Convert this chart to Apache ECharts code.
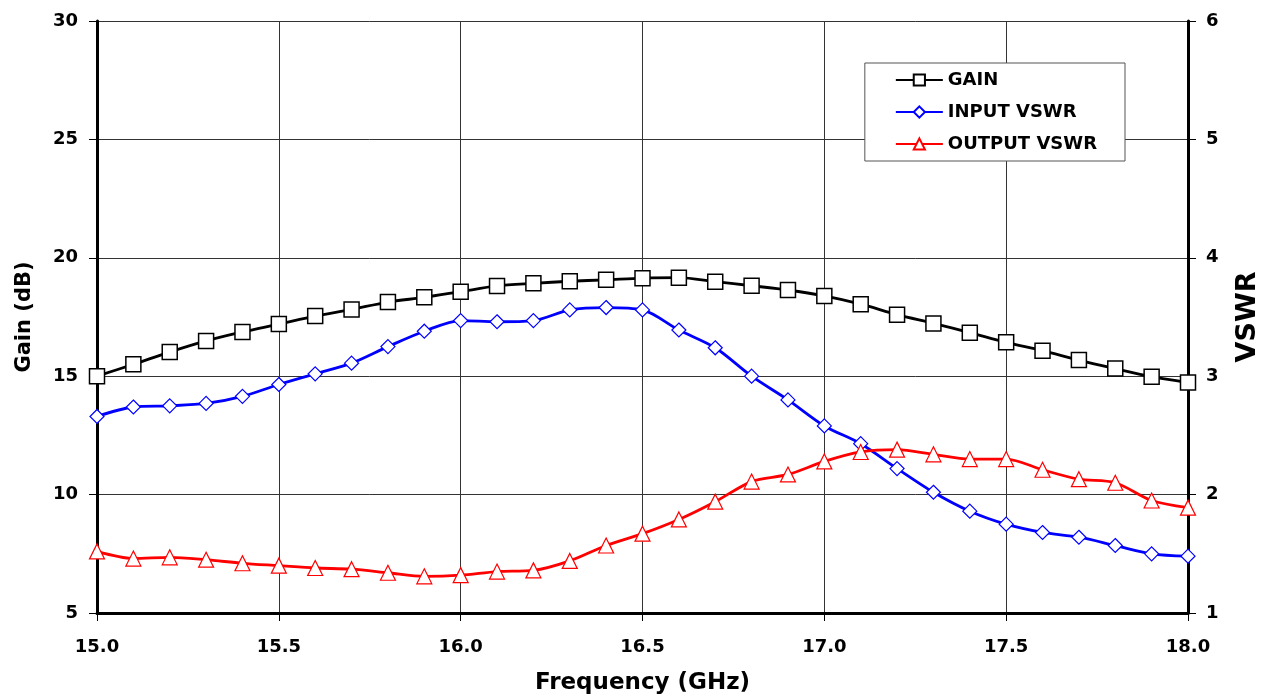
<!DOCTYPE html>
<html>
<head>
<meta charset="utf-8">
<script src="https://cdn.jsdelivr.net/npm/echarts@6/dist/echarts.min.js"></script>
<style>
  html, body { margin: 0; padding: 0; background: #fff; }
  #main { width: 1271px; height: 700px; }
</style>
</head>
<body>
<div id="main"></div>
<script>
// frequency points (GHz)
var freq = [15.0, 15.1, 15.2, 15.3, 15.4, 15.5, 15.6, 15.7, 15.8, 15.9,
            16.0, 16.1, 16.2, 16.3, 16.4, 16.5, 16.6, 16.7, 16.8, 16.9,
            17.0, 17.1, 17.2, 17.3, 17.4, 17.5, 17.6, 17.7, 17.8, 17.9, 18.0];
// gain in dB (left axis)
var gain = [15.0, 15.5, 16.02, 16.49, 16.87, 17.2, 17.54, 17.82, 18.13, 18.33,
            18.57, 18.81, 18.92, 19.01, 19.07, 19.14, 19.16, 18.99, 18.82, 18.64,
            18.39, 18.04, 17.6, 17.23, 16.84, 16.43, 16.08, 15.68, 15.32, 14.98, 14.73];
// input / output VSWR (right axis)
var inVswr = [2.66, 2.74, 2.75, 2.77, 2.83, 2.93, 3.02, 3.11, 3.25, 3.38,
              3.47, 3.46, 3.47, 3.56, 3.58, 3.56, 3.39, 3.24, 3.00, 2.80,
              2.58, 2.43, 2.22, 2.02, 1.86, 1.75, 1.68, 1.64, 1.57, 1.50, 1.48];
var outVswr = [1.52, 1.46, 1.47, 1.45, 1.42, 1.40, 1.38, 1.37, 1.34, 1.31,
               1.32, 1.35, 1.36, 1.44, 1.57, 1.67, 1.79, 1.94, 2.11, 2.17,
               2.28, 2.36, 2.38, 2.34, 2.30, 2.30, 2.21, 2.13, 2.10, 1.95, 1.89];

function pairs(ys) {
    var out = [];
    for (var i = 0; i < freq.length; i++) {
        out.push([freq[i], ys[i]]);
    }
    return out;
}

// wide bold face, the original text looks stretched
var font = '"DejaVu Sans", sans-serif';
var myChart = echarts.init(document.getElementById('main'));

var option = {
    backgroundColor: '#fff',
    animation: false,
    grid: { left: 97, right: 83, top: 21, bottom: 87, containLabel: false },
    legend: {
        right: 146,
        top: 63,
        orient: 'vertical',
        backgroundColor: '#fff',
        borderColor: '#555',
        borderWidth: 1,
        padding: [8, 28, 8, 30],
        itemGap: 14,
        itemWidth: 47,
        itemHeight: 14,
        textStyle: { fontFamily: font, fontWeight: 'bold', fontSize: 18, color: '#000' },
        data: ['GAIN', 'INPUT VSWR', 'OUTPUT VSWR']
    },
    xAxis: {
        type: 'value',
        min: 15,
        max: 18,
        interval: 0.5,
        name: 'Frequency (GHz)',
        nameLocation: 'middle',
        nameGap: 59,
        nameTextStyle: { fontFamily: font, fontWeight: 'bold', fontSize: 23, color: '#000' },
        axisLine: { lineStyle: { color: '#000', width: 3 } },
        axisTick: { show: true, length: 8, lineStyle: { color: '#000' } },
        axisLabel: {
            margin: 25,
            fontFamily: font, fontWeight: 'bold', fontSize: 18, color: '#000',
            formatter: function (v) { return v.toFixed(1); }
        },
        splitLine: { show: true, lineStyle: { color: '#333', width: 1 } }
    },
    yAxis: [{
        type: 'value',
        min: 5,
        max: 30,
        interval: 5,
        name: 'Gain (dB)',
        nameLocation: 'middle',
        nameGap: 62,
        nameRotate: 90,
        nameTextStyle: { fontFamily: font, fontWeight: 'bold', fontSize: 21, color: '#000' },
        axisLine: { show: true, lineStyle: { color: '#000', width: 3 } },
        axisTick: { show: true, length: 8, lineStyle: { color: '#000' } },
        axisLabel: { margin: 19, fontFamily: font, fontWeight: 'bold', fontSize: 18, color: '#000' },
        splitLine: { show: true, lineStyle: { color: '#333', width: 1 } }
    }, {
        type: 'value',
        min: 1,
        max: 6,
        interval: 1,
        position: 'right',
        name: 'VSWR',
        nameLocation: 'middle',
        nameGap: 46,
        nameRotate: 90,
        nameTextStyle: { fontFamily: font, fontWeight: 'bold', fontSize: 27, color: '#000' },
        axisLine: { show: true, lineStyle: { color: '#000', width: 3 } },
        axisTick: { show: true, length: 8, lineStyle: { color: '#000' } },
        axisLabel: { margin: 18, fontFamily: font, fontWeight: 'bold', fontSize: 18, color: '#000' },
        splitLine: { show: false }
    }],
    series: [{
        name: 'GAIN',
        type: 'line',
        yAxisIndex: 0,
        smooth: 0.3,
        symbol: 'rect',
        symbolSize: 15,
        itemStyle: { color: '#fff', borderColor: '#000', borderWidth: 1.5 },
        lineStyle: { color: '#000', width: 2.8 },
        data: pairs(gain),
        z: 3
    }, {
        name: 'INPUT VSWR',
        type: 'line',
        yAxisIndex: 1,
        smooth: 0.3,
        symbol: 'diamond',
        symbolSize: 14,
        itemStyle: { color: '#fff', borderColor: '#0000ff', borderWidth: 1.2 },
        lineStyle: { color: '#0000ff', width: 2.8 },
        data: pairs(inVswr),
        z: 4
    }, {
        name: 'OUTPUT VSWR',
        type: 'line',
        yAxisIndex: 1,
        smooth: 0.3,
        symbol: 'triangle',
        symbolSize: 15,
        itemStyle: { color: '#fff', borderColor: '#ff0000', borderWidth: 1.2 },
        lineStyle: { color: '#ff0000', width: 2.8 },
        data: pairs(outVswr),
        z: 5
    }]
};

myChart.setOption(option);
</script>
</body>
</html>
